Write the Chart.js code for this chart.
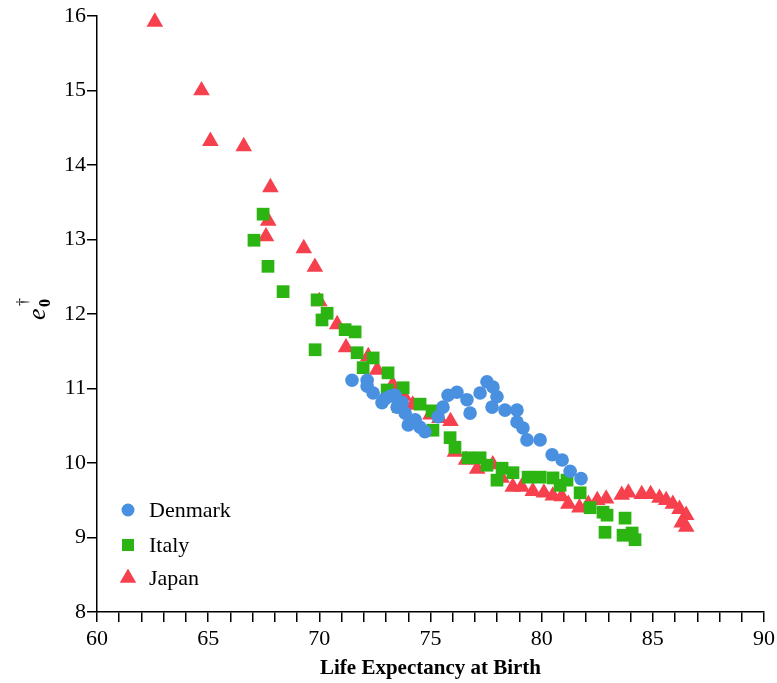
<!DOCTYPE html>
<html>
<head>
<meta charset="utf-8">
<script src="https://cdn.jsdelivr.net/npm/chart.js@4.4.0/dist/chart.umd.min.js"></script>
<style>
html,body{margin:0;padding:0;background:#fff;}
#wrap{width:777px;height:683px;position:relative;}
</style>
</head>
<body>
<div id="wrap"><canvas id="c"></canvas></div>
<script>
const seriesNames = ['Denmark', 'Italy', 'Japan'];
const seriesColors = ['#4a90e0', '#2cb412', '#f6404e'];
const xTickLabels = [60, 65, 70, 75, 80, 85, 90];
const yTickLabels = [8, 9, 10, 11, 12, 13, 14, 15, 16];

const denmarkLE = [71.47,72.15,72.15,72.42,72.82,72.95,73.2,73.41,73.50,73.72,73.86,74.00,74.31,74.53,74.75,75.34,75.56,75.79,76.19,76.64,76.78,77.23,77.54,77.81,77.99,77.77,78.35,78.89,78.89,79.16,79.34,79.93,80.47,80.92,81.28,81.77];
const denmarkE  = [11.11,11.11,11.03,10.94,10.81,10.86,10.9,10.91,10.75,10.81,10.67,10.51,10.58,10.48,10.42,10.62,10.75,10.91,10.95,10.85,10.67,10.94,11.09,11.02,10.89,10.75,10.71,10.71,10.55,10.47,10.31,10.31,10.11,10.04,9.89,9.79];

const italyLE = [67.47,67.06,67.69,68.37,69.90,70.35,70.12,69.81,71.16,71.61,71.70,71.97,72.42,73.09,73.05,73.77,73.55,74.53,75.07,75.11,75.88,76.10,76.69,77.23,77.54,77.99,78.22,78.71,79.39,79.93,80.51,80.83,81.14,81.73,82.18,82.76,82.94,82.85,83.75,83.66,84.07,84.20];
const italyE  = [13.34,12.99,12.64,12.30,12.19,12.01,11.92,11.52,11.79,11.76,11.48,11.28,11.41,11.21,10.98,11.01,10.76,10.79,10.70,10.44,10.34,10.21,10.07,10.07,9.97,9.77,9.93,9.87,9.81,9.81,9.80,9.70,9.77,9.60,9.40,9.34,9.30,9.07,9.26,9.03,9.06,8.97];

const japanLE = [62.6,64.7,65.1,66.6,67.8,67.7,67.6,69.3,69.8,70.0,70.8,71.2,72.2,72.6,73.3,73.8,74.2,75.0,75.4,75.9,76.1,76.6,77.1,77.8,78.2,78.7,79.1,79.6,80.1,80.5,80.9,81.2,81.7,82.1,82.5,82.9,83.6,83.9,84.5,84.9,85.3,85.6,85.9,86.2,86.5,86.3,86.5];
const japanE  = [15.92,15.0,14.32,14.25,13.7,13.25,13.04,12.88,12.63,12.17,11.86,11.55,11.43,11.25,11.05,10.9,10.78,10.65,10.6,10.56,10.15,10.04,9.92,9.98,9.8,9.68,9.68,9.62,9.6,9.56,9.55,9.45,9.4,9.45,9.5,9.52,9.57,9.6,9.58,9.58,9.53,9.5,9.45,9.38,9.3,9.2,9.14];

function pts(xs, ys) { return xs.map((x, i) => ({x: x, y: ys[i]})); }

const SERIF = "'Liberation Serif', 'DejaVu Serif', serif";

function drawMarker(ctx, style, x, y, r) {
  ctx.beginPath();
  if (style === 'circle') {
    ctx.arc(x, y, r, 0, Math.PI * 2);
  } else if (style === 'rect') {
    const s = Math.SQRT1_2 * r;
    ctx.rect(x - s, y - s, 2 * s, 2 * s);
  } else {
    let a = 0;
    ctx.moveTo(x + Math.sin(a) * r, y - Math.cos(a) * r);
    a += 2 * Math.PI / 3;
    ctx.lineTo(x + Math.sin(a) * r, y - Math.cos(a) * r);
    a += 2 * Math.PI / 3;
    ctx.lineTo(x + Math.sin(a) * r, y - Math.cos(a) * r);
    ctx.closePath();
  }
  ctx.fill();
}

const legendPlugin = {
  id: 'insideLegend',
  afterDraw(chart) {
    const ctx = chart.ctx;
    const area = chart.chartArea;
    ctx.save();
    const styles = ['circle', 'rect', 'triangle'];
    const radii = [6.5, 8.5, 9.5];
    const offs = [102, 67, 34];
    ctx.font = '22px ' + SERIF;
    ctx.textBaseline = 'middle';
    ctx.textAlign = 'left';
    seriesNames.forEach((name, i) => {
      const y = area.bottom - offs[i];
      ctx.fillStyle = seriesColors[i];
      drawMarker(ctx, styles[i], area.left + 31, y, radii[i]);
      ctx.fillStyle = '#000';
      ctx.fillText(name, area.left + 52, y + 1);
    });
    ctx.restore();
  }
};

const yTitlePlugin = {
  id: 'yTitle',
  afterDraw(chart) {
    const ctx = chart.ctx;
    ctx.save();
    ctx.translate(45, 320);
    ctx.rotate(-Math.PI / 2);
    ctx.fillStyle = '#000';
    ctx.textAlign = 'left';
    ctx.textBaseline = 'alphabetic';
    ctx.font = 'italic 26px ' + SERIF;
    ctx.fillText('e', 0, 0);
    ctx.font = 'bold 16px ' + SERIF;
    ctx.fillText('0', 13, 5);
    ctx.font = '16px ' + SERIF;
    ctx.fillText('\u2020', 14, -17);
    ctx.restore();
  }
};

const shapes = ['circle', 'rect', 'triangle'];
const radiusBy = [6.8, 9.0, 9.6];
const dataSets = [pts(denmarkLE, denmarkE), pts(italyLE, italyE), pts(japanLE, japanE)];

new Chart(document.getElementById('c'), {
  type: 'scatter',
  data: {
    datasets: seriesNames.map((n, i) => ({
      label: n,
      data: dataSets[i],
      pointStyle: shapes[i],
      pointRadius: radiusBy[i],
      pointHoverRadius: radiusBy[i],
      pointBorderWidth: 0,
      backgroundColor: seriesColors[i],
      borderColor: seriesColors[i],
      clip: false
    }))
  },
  options: {
    responsive: true,
    maintainAspectRatio: false,
    animation: false,
    events: [],
    layout: { padding: { left: 0, right: 13, top: 16, bottom: 2 } },
    plugins: { legend: { display: false }, tooltip: { enabled: false } },
    scales: {
      x: {
        type: 'linear',
        min: 60, max: 90,
        afterFit(s) { s.height = 69; s.paddingRight = 0; s.paddingLeft = 0; },
        ticks: {
          stepSize: 1, autoSkip: false, maxRotation: 0, padding: 4,
          color: '#000', font: { family: SERIF, size: 22 },
          callback: v => xTickLabels.includes(v) ? String(v) : ''
        },
        grid: { display: true, drawOnChartArea: false, drawTicks: true, tickLength: 10, color: '#000', lineWidth: 1.5 },
        border: { display: true, color: '#000', width: 1.5 },
        title: { display: true, text: 'Life Expectancy at Birth', color: '#000', font: { family: SERIF, size: 21, weight: 'bold' }, padding: { top: 0, bottom: 0 } }
      },
      y: {
        type: 'linear',
        min: 8, max: 16,
        afterFit(s) { s.width = 97; },
        ticks: {
          stepSize: 1, autoSkip: false, padding: 1,
          color: '#000', font: { family: SERIF, size: 22 },
          callback: v => yTickLabels.includes(v) ? String(v) : ''
        },
        grid: { display: true, drawOnChartArea: false, drawTicks: true, tickLength: 10, color: '#000', lineWidth: 1.5 },
        border: { display: true, color: '#000', width: 1.5 }
      }
    }
  },
  plugins: [legendPlugin, yTitlePlugin]
});
</script>
</body>
</html>
